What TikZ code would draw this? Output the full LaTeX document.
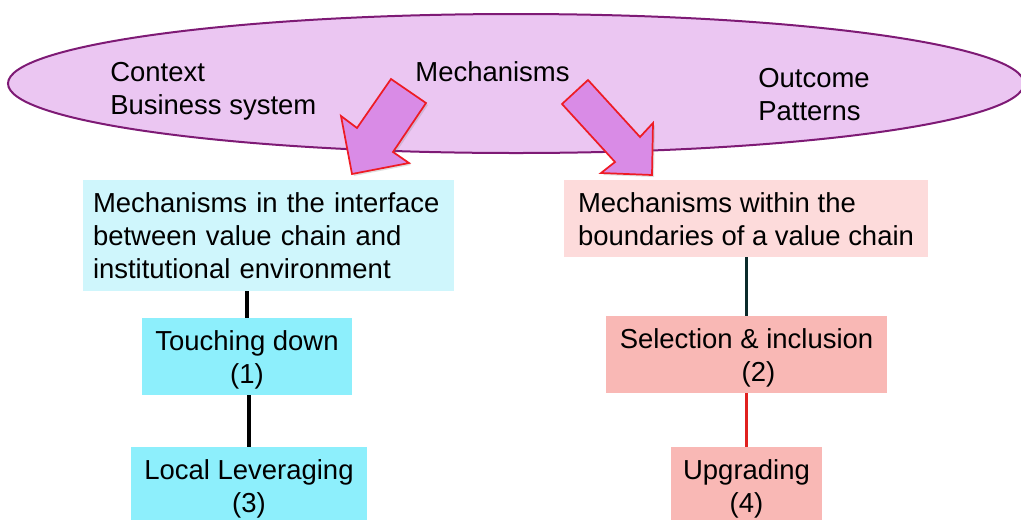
\documentclass[tikz,border=0pt]{standalone}
\usepackage{fontspec}
\setmainfont{Liberation Sans}
\usetikzlibrary{shapes.geometric,shadows}
\definecolor{ellfill}{HTML}{EBC6F2}
\definecolor{elldraw}{HTML}{7E1A75}
\definecolor{arrfill}{HTML}{D98BE6}
\definecolor{arrdraw}{HTML}{EE1C25}
\definecolor{cyanlight}{HTML}{CFF6FC}
\definecolor{cyanbox}{HTML}{8DEFFC}
\definecolor{pinklight}{HTML}{FDDBDB}
\definecolor{pinkbox}{HTML}{F9B8B5}
\definecolor{darkline}{HTML}{0B2B2B}
\definecolor{redline}{HTML}{E0201F}
\newcommand\myupstrut{\rule{0pt}{19.5pt}}
\newcommand\mysmallstrut{\rule{0pt}{16.5pt}}
\tikzset{
  txt/.style={font=\fontsize{20.6}{24.75}\selectfont, text=black},
  box/.style={txt, rectangle, draw=none, inner sep=0pt, align=center},
  bigarrow/.style={fill=arrfill, draw=arrdraw, line width=1.3pt, line join=miter,
     drop shadow={opacity=0.25, shadow xshift=1.5pt, shadow yshift=-1.5pt}},
  conn/.style={line width=2.5pt},
}
\begin{document}
\begin{tikzpicture}[x=0.75pt,y=-0.75pt]
\useasboundingbox (0,0) rectangle (1021,519);
\clip (0,0) rectangle (1021,519);
% ellipse
\node[ellipse, fill=ellfill, draw=elldraw, line width=1.5pt, minimum width=1016*0.75pt, minimum height=139*0.75pt, inner sep=0pt] (ell) at (516,83.5) {};
\node[txt, anchor=west, align=left, inner sep=0pt] (ctx) at (110,91) {Context\\Business system};
\node[txt, inner sep=0pt] (mech) at (492.5,72) {Mechanisms};
\node[txt, anchor=west, align=left, inner sep=0pt] (out) at (758,95) {Outcome\\Patterns};
% arrows
\draw[bigarrow] (391,79) -- (426,103) -- (393,152) -- (409,163) -- (352,174) -- (341,116) -- (357,128) -- cycle;
\draw[bigarrow] (588,80) -- (562,104) -- (615,162) -- (601,173) -- (652,175) -- (653,123) -- (640,137) -- cycle;
% boxes
\node[box, fill=cyanlight, minimum width=371*0.75pt, minimum height=111*0.75pt, text width=351*0.75pt, align=left] (tl) at (268.5,235.5) {Mechanisms in the interface\\between value chain and\\institutional environment};
\node[box, fill=pinklight, minimum width=364*0.75pt, minimum height=77*0.75pt, align=left] (tr) at (746,218.5) {\mysmallstrut Mechanisms within the\\boundaries of a value chain};
\node[box, fill=cyanbox, minimum width=210*0.75pt, minimum height=77*0.75pt] (td) at (247,356.5) {\myupstrut Touching down\\(1)};
\node[box, fill=cyanbox, minimum width=236*0.75pt, minimum height=78*0.75pt] (ll) at (249,486) {\myupstrut Local Leveraging\\(3)};
\node[box, fill=pinkbox, minimum width=281*0.75pt, minimum height=77*0.75pt] (si) at (746.5,354.5) {\myupstrut Selection \& inclusion\\\hspace*{18pt}(2)};
\node[box, fill=pinkbox, minimum width=151*0.75pt, minimum height=78*0.75pt] (up) at (746.5,486) {\myupstrut Upgrading\\(4)};
% connectors
\draw[conn, black] (td.north |- tl.south) -- (td.north);
\draw[conn, black] (ll.north |- td.south) -- (ll.north);
\draw[conn, darkline] (si.north |- tr.south) -- (si.north);
\draw[line width=1.8pt, redline] (up.north |- si.south) -- (up.north);
\end{tikzpicture}
\end{document}
